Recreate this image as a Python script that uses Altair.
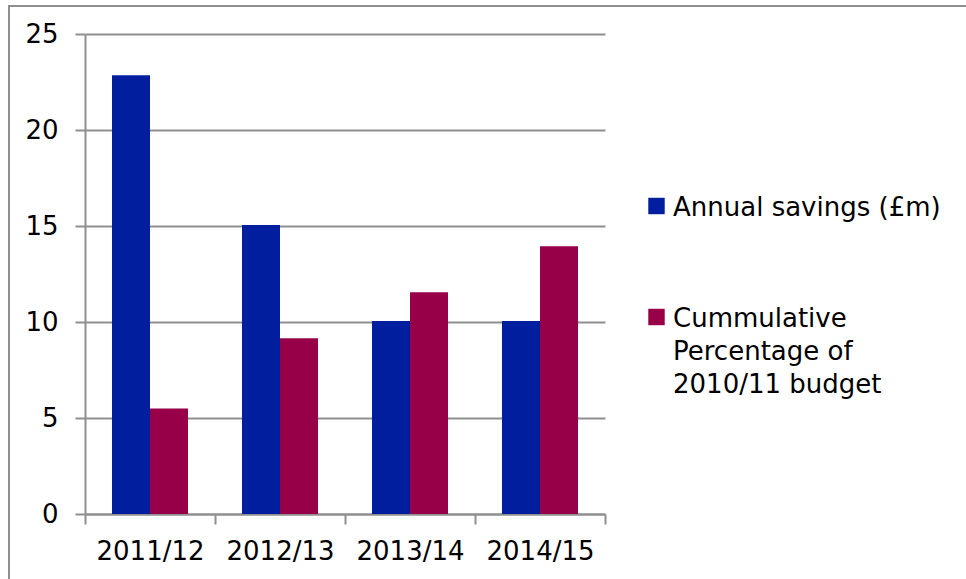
import altair as alt
import pandas as pd

categories = ["2011/12", "2012/13", "2013/14", "2014/15"]
series = ["Annual savings (£m)", "Cummulative Percentage of 2010/11 budget"]
legend_labels = ["Annual savings (£m)", "Cummulative\nPercentage of\n2010/11 budget"]
annual_savings = [22.85, 15.05, 10.05, 10.05]
cumulative_pct = [5.5, 9.15, 11.55, 13.95]
colors = ["#001e9e", "#970049"]
y_ticks = [0, 5, 10, 15, 20, 25]

FONT = "DejaVu Sans"
FS = 26
GRID = "#8f8f8f"

rows = []
for i, c in enumerate(categories):
    rows.append({"year": c, "series": series[0], "value": annual_savings[i]})
    rows.append({"year": c, "series": series[1], "value": cumulative_pct[i]})
bars_df = pd.DataFrame(rows)

legend_df = pd.DataFrame({"series": series, "label": legend_labels})

color_scale = alt.Scale(domain=series, range=colors)

border = alt.Chart(pd.DataFrame({"a": [0]})).mark_rect(
    fill="transparent", stroke=GRID, strokeWidth=2
).encode(
    x=alt.value(-76), x2=alt.value(900), y=alt.value(-28), y2=alt.value(570)
)

bars = alt.Chart(bars_df).mark_bar().encode(
    x=alt.X("year:N", sort=categories, title=None,
            scale=alt.Scale(paddingInner=0, paddingOuter=0),
            axis=alt.Axis(labelAngle=0, tickBand="extent", tickSize=10,
                          labelPadding=14, domainColor=GRID, tickColor=GRID,
                          domainWidth=2, tickWidth=2, grid=False)),
    xOffset=alt.XOffset("series:N", sort=series,
                        scale=alt.Scale(paddingInner=0, paddingOuter=0.71)),
    y=alt.Y("value:Q", title=None,
            scale=alt.Scale(domain=[0, 25], nice=False),
            axis=alt.Axis(values=y_ticks, tickSize=10, labelPadding=17,
                          domainColor=GRID, tickColor=GRID, gridColor=GRID,
                          domainWidth=2, tickWidth=2, gridWidth=2, grid=True)),
    color=alt.Color("series:N", scale=color_scale, legend=None),
)

legend_y = alt.Y("series:N", axis=None,
                 scale=alt.Scale(type="point", padding=0, domain=series, range=[172, 283]))

legend_sq = alt.Chart(legend_df).mark_square(size=270, opacity=1).encode(
    x=alt.value(571.5),
    y=legend_y,
    color=alt.Color("series:N", scale=color_scale, legend=None),
)

legend_txt = alt.Chart(legend_df).mark_text(
    align="left", baseline="alphabetic", dy=10, lineBreak="\n",
    lineHeight=33, font=FONT, fontSize=FS, color="black"
).encode(
    x=alt.value(588),
    y=legend_y,
    text="label:N",
)

chart = alt.layer(border, bars, legend_sq, legend_txt).resolve_scale(
    y="independent"
).properties(
    width=520, height=480,
    autosize=alt.AutoSizeParams(type="none"),
    padding={"left": 85, "top": 34, "right": 361, "bottom": 65},
    background="white",
).configure_view(stroke=None).configure_axis(
    labelFont=FONT, labelFontSize=FS, labelColor="black"
)

chart.save("out.html", embed_options={"renderer": "svg", "actions": False})
